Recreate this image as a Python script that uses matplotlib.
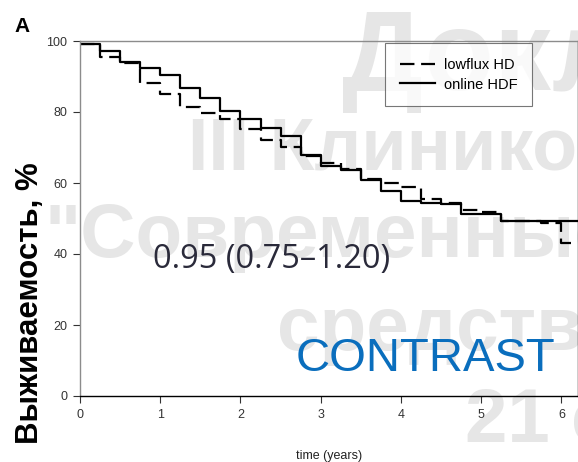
import matplotlib.pyplot as plt

# Kaplan-Meier steps (time in years, survival in %)
hdf_t = [0, 0.25, 0.5, 0.75, 1.0, 1.25, 1.5, 1.75, 2.0, 2.25, 2.5, 2.75,
         3.0, 3.25, 3.5, 3.75, 4.0, 4.25, 4.5, 4.75, 5.25, 6.2]
hdf_s = [99.1, 97.2, 94.0, 92.4, 90.3, 86.8, 84.0, 80.4, 78.0, 75.6, 73.2, 67.9,
         64.9, 63.7, 60.8, 57.7, 55.0, 54.5, 54.2, 51.3, 49.2, 49.2]

hd_t = [0, 0.25, 0.5, 0.75, 1.0, 1.25, 1.5, 1.75, 2.0, 2.25, 2.5, 2.75,
        3.0, 3.25, 3.5, 3.75, 4.0, 4.25, 4.5, 4.75, 5.0, 5.25, 5.75, 6.0, 6.15]
hd_s = [99.1, 95.6, 93.7, 88.3, 85.0, 81.5, 79.8, 77.9, 75.2, 72.2, 70.2, 67.6,
        65.5, 63.9, 61.0, 59.9, 58.8, 55.4, 54.5, 52.5, 51.7, 49.2, 48.6, 43.0, 43.0]

yticks = [0, 20, 40, 60, 80, 100]
xticks = [0, 1, 2, 3, 4, 5, 6]

# watermark lines of the slide (cut by the picture edge)
wm_lines = ['Доклад', 'III Клинико-', '"Современные', 'средства', '21 сентября']

plt.rcParams['font.family'] = ['Liberation Sans', 'DejaVu Sans']

fig = plt.figure(figsize=(5.78, 4.62), dpi=100)
ax = fig.add_axes([80 / 578, 66 / 462, 497.5 / 578, 355 / 462])
ax.patch.set_alpha(0)

# light grey watermark behind everything
wm_pos = [(342, 90, 82), (188, 170, 53), (45, 257, 55), (277, 350, 55), (465, 442, 55)]
for txt, (px, py, fs) in zip(wm_lines, wm_pos):
    fig.text(px / 578, 1 - py / 462, txt, fontsize=fs, fontweight='bold',
             color='#e6e6e6', ha='left', va='baseline', zorder=-1)

ax.step(hd_t, hd_s, where='post', color='black', lw=1.6,
        linestyle=(0, (6.5, 3)), label='lowflux HD')
ax.step(hdf_t, hdf_s, where='post', color='black', lw=1.6, label='online HDF')

ax.set_xlim(0, 6.2)
ax.set_ylim(0, 100)
ax.set_xticks(xticks)
ax.set_yticks(yticks)
ax.tick_params(labelsize=9, colors='#333333', length=5, width=0.8, pad=4)

for side in ['left', 'top']:
    ax.spines[side].set_color('#8c8c8c')
for side in ['bottom', 'right']:
    ax.spines[side].set_color('black')
for sp in ax.spines.values():
    sp.set_linewidth(1.0)

ax.set_xlabel('time (years)', fontsize=9, color='#222222', labelpad=21)

leg = ax.legend(loc='upper right', bbox_to_anchor=(0.9085, 0.994), fontsize=10.5,
                frameon=True, fancybox=False, handlelength=2.4, borderpad=1.0,
                labelspacing=0.4, handletextpad=0.6, borderaxespad=0)
leg.get_frame().set_edgecolor('#555555')
leg.get_frame().set_linewidth(0.8)

ax.text(0.147, 0.385, '0.95 (0.75\u20131.20)', transform=ax.transAxes, fontsize=23.5,
        color='#2a2a3a', family=['Open Sans', 'DejaVu Sans'], va='center')
ax.text(0.955, 0.105, 'CONTRAST', transform=ax.transAxes, fontsize=34,
        color='#0A6EBD', ha='right', va='center')

fig.text(14 / 578, 1 - 26 / 462, 'A', fontsize=15, fontweight='bold', va='center')
fig.text(30 / 578, 1 - 303 / 462, 'Выживаемость, %', fontsize=22.5, fontweight='bold',
         rotation=90, ha='center', va='center')

fig.savefig('out.png', dpi=100)
